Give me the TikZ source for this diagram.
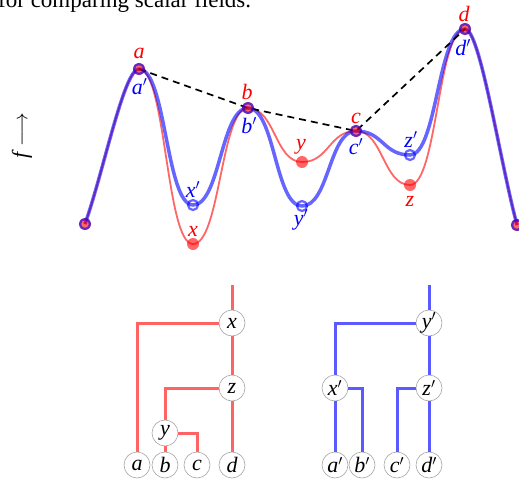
\documentclass[tikz,border=0pt]{standalone}
\usepackage{fontspec}
\setmainfont{Liberation Serif}
\definecolor{treered}{RGB}{255,100,100}
\definecolor{treeblue}{RGB}{90,90,255}
\begin{document}
\begin{tikzpicture}[x=1pt,y=-1pt,
  lbl/.style={font=\fontsize{22}{26}\selectfont\itshape, anchor=base, inner sep=0pt},
  rl/.style={lbl, text=red},
  bl/.style={lbl, text=blue},
  tn/.style={circle, draw=gray!70, line width=0.6pt, fill=white, minimum size=26pt, inner sep=0pt, font=\fontsize{22}{26}\selectfont\itshape},
  redtree/.style={line width=3pt, draw=treered},
  bluetree/.style={line width=3pt, draw=treeblue},
  rcurve/.style={draw=red, draw opacity=0.6, line width=1.8pt},
  bcurve/.style={draw=blue, draw opacity=0.6, line width=3.5pt},
  rdot/.style={circle, fill=red, fill opacity=0.6, minimum size=12pt, inner sep=0pt},
  bring/.style={circle, draw=blue, draw opacity=0.6, line width=2.2pt, minimum size=10pt, inner sep=0pt},
  dashline/.style={draw=black, line width=1.7pt, dash pattern=on 7pt off 5pt},
]
\useasboundingbox (0,0) rectangle (519,479);
\clip (0,0) rectangle (519,479);

% caption fragment
\node[anchor=base west, font=\fontsize{23}{27}\selectfont, inner sep=0pt] (cap) at (-2,8) {for comparing scalar fields.};

% axis label
\node[rotate=90, font=\fontsize{22}{26}\selectfont, inner sep=0pt] (flab) at (22,136) {\textit{f}\,$\longrightarrow$};

% critical points
\coordinate (L) at (85,224);
\coordinate (a) at (139,69);
\coordinate (x) at (193,244);
\coordinate (xp) at (193,205);
\coordinate (b) at (248,108);
\coordinate (y) at (302,162);
\coordinate (yp) at (302,206);
\coordinate (c) at (356,131);
\coordinate (z) at (410,185);
\coordinate (zp) at (410,155);
\coordinate (d) at (465,29);
\coordinate (R) at (517,225);

% red curve
\draw[rcurve] (L) .. controls +(19,-54) and +(-15,0) .. (a)
  .. controls +(27,0) and +(-27,0) .. (x)
  .. controls +(27,0) and +(-27,0) .. (b)
  .. controls +(27,0) and +(-27,0) .. (y)
  .. controls +(27,0) and +(-27,0) .. (c)
  .. controls +(27,0) and +(-27,0) .. (z)
  .. controls +(27,0) and +(-27,0) .. (d)
  .. controls +(15,0) and +(-18,-68) .. (R);
% blue curve
\draw[bcurve] (L) .. controls +(19,-54) and +(-15,0) .. (a)
  .. controls +(27,0) and +(-27,0) .. (xp)
  .. controls +(27,0) and +(-27,0) .. (b)
  .. controls +(27,0) and +(-27,0) .. (yp)
  .. controls +(27,0) and +(-27,0) .. (c)
  .. controls +(27,0) and +(-27,0) .. (zp)
  .. controls +(27,0) and +(-27,0) .. (d)
  .. controls +(15,0) and +(-18,-68) .. (R);

% dashed line
\draw[dashline] (a) -- (b) -- (c) -- (d);

% markers
\foreach \p in {L,a,x,b,y,c,z,d,R} {\node[rdot] (rd\p) at (\p) {};}
\foreach \p in {L,a,xp,b,yp,c,zp,d,R} {\node[bring] (bd\p) at (\p) {};}

% labels
\node[rl] (la) at (139,58) {a};
\node[bl] (lap) at (139.5,94) {a$'$};
\node[bl] (lxp) at (193,197) {x$'$};
\node[rl] (lx) at (193,236) {x};
\node[rl] (lb) at (247,99) {b};
\node[bl] (lbp) at (249,133) {b$'$};
\node[rl] (ly) at (301,149) {y};
\node[bl] (lyp) at (301,225) {y$'$};
\node[rl] (lc) at (356,123) {c};
\node[bl] (lcp) at (356,154) {c$'$};
\node[bl] (lzp) at (411,147) {z$'$};
\node[rl] (lz) at (410,206) {z};
\node[rl] (ld) at (464,21) {d};
\node[bl] (ldp) at (463,55) {d$'$};

% left tree
\coordinate (topL) at (232,285);
\node[tn] (tx) at (232,323) {x};
\node[tn] (tz) at (232,388) {z};
\node[tn] (ty) at (165,433) {y};
\node[tn] (ta) at (137,465) {a};
\node[tn] (tb) at (165,465) {b};
\node[tn] (tc) at (197,465) {c};
\node[tn] (td) at (232,465) {d};
\draw[redtree] (topL) -- (tx.north);
\draw[redtree] (tx.west) -| (ta.north);
\draw[redtree] (tx.south) -- (tz.north);
\draw[redtree] (tz.west) -| (ty.north);
\draw[redtree] (tz.south) -- (td.north);
\draw[redtree] (ty.east) -| (tc.north);
\draw[redtree] (ty.south) -- (tb.north);

% right tree
\coordinate (topR) at (429,285);
\node[tn] (typ) at (429,323) {y$'$};
\node[tn] (txp) at (335,388) {x$'$};
\node[tn] (tzp) at (429,388) {z$'$};
\node[tn] (tap) at (335,465) {a$'$};
\node[tn] (tbp) at (362,465) {b$'$};
\node[tn] (tcp) at (397,465) {c$'$};
\node[tn] (tdp) at (429,465) {d$'$};
\draw[bluetree] (topR) -- (typ.north);
\draw[bluetree] (typ.west) -| (txp.north);
\draw[bluetree] (typ.south) -- (tzp.north);
\draw[bluetree] (txp.east) -| (tbp.north);
\draw[bluetree] (txp.south) -- (tap.north);
\draw[bluetree] (tzp.west) -| (tcp.north);
\draw[bluetree] (tzp.south) -- (tdp.north);
\end{tikzpicture}
\end{document}
